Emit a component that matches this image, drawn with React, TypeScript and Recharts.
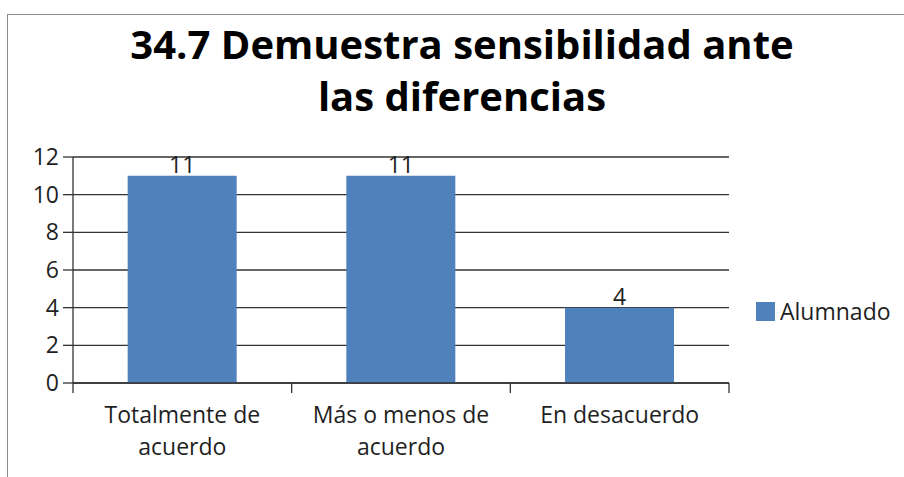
// Bar chart: "34.7 Demuestra sensibilidad ante las diferencias" — one series
// (Alumnado) over three agreement categories, Excel-2007 styling.
import { Bar, BarChart, CartesianGrid, LabelList, XAxis, YAxis } from "recharts";

const TITLE_LINES = ["34.7 Demuestra sensibilidad ante", "las diferencias"];
const CATEGORIES = ["Totalmente de acuerdo", "Más o menos de acuerdo", "En desacuerdo"];
const CATEGORY_LINES = [["Totalmente de", "acuerdo"], ["Más o menos de", "acuerdo"], ["En desacuerdo"]];
const ALUMNADO = [11, 11, 4];
const Y_TICKS = [0, 2, 4, 6, 8, 10, 12];
const SERIES_NAME = "Alumnado";

const BAR_COLOR = "#4F81BD";
const INK = "#1f1f1f";
const GRID = "#333333";
const FONT = "'Open Sans', sans-serif";
const LABEL_SIZE = 23;

const rows = CATEGORIES.map((c, i) => ({ name: c, value: ALUMNADO[i] }));

// category label under each band, with tick marks on the band edges
function CategoryTick(props: any) {
  const { x, y, payload, index, visibleTicksCount, width } = props;
  const half = payload?.offset ?? width / visibleTicksCount / 2;
  const lines = CATEGORY_LINES[index] ?? [String(payload.value)];
  const isLast = index === visibleTicksCount - 1;
  return (
    <g>
      <line x1={x - half} x2={x - half} y1={y} y2={y + 10} stroke={GRID} strokeWidth={1.3} />
      {isLast && <line x1={x + half} x2={x + half} y1={y} y2={y + 10} stroke={GRID} strokeWidth={1.3} />}
      {lines.map((l: string, i: number) => (
        <text key={i} x={x} y={y + 40 + i * 32} textAnchor="middle" fontSize={LABEL_SIZE} fill={INK} fontFamily={FONT}>
          {l}
        </text>
      ))}
    </g>
  );
}

export default function App() {
  return (
    <div style={{ position: "absolute", left: 0, top: 0, width: 904, height: 477, background: "#fff", overflow: "hidden", fontFamily: FONT }}>
      {/* chart frame, cropped on the right and bottom */}
      <div style={{ position: "absolute", left: 7, top: 14, width: 910, height: 480, borderLeft: "1.5px solid #8c8c8c", borderTop: "1.5px solid #8c8c8c" }} />
      <div
        style={{
          position: "absolute",
          left: 0,
          top: 18,
          width: 924,
          textAlign: "center",
          fontWeight: 700,
          fontSize: 40,
          lineHeight: "52px",
          color: "#000",
        }}
      >
        {TITLE_LINES.map((t) => (
          <div key={t}>{t}</div>
        ))}
      </div>
      <BarChart
        width={904}
        height={477}
        data={rows}
        margin={{ top: 157, right: 175, bottom: 14, left: 13 }}
        barCategoryGap="25%"
        style={{ position: "absolute", left: 0, top: 0, fontFamily: FONT }}
      >
        <CartesianGrid horizontal vertical={false} stroke={GRID} strokeWidth={1.3} />
        <XAxis
          dataKey="name"
          interval={0}
          height={80}
          tickSize={0}
          tickMargin={0}
          tickLine={false}
          axisLine={{ stroke: GRID, strokeWidth: 1.3 }}
          tick={<CategoryTick />}
        />
        <YAxis
          domain={[0, 12]}
          ticks={Y_TICKS}
          width={60}
          tickSize={10}
          tickMargin={4}
          tickLine={{ stroke: GRID, strokeWidth: 1.3 }}
          axisLine={{ stroke: GRID, strokeWidth: 1.3 }}
          tick={{ fontSize: LABEL_SIZE, fill: INK }}
        />
        <YAxis yAxisId="edge" orientation="right" domain={[0, 12]} width={0} tick={false} tickLine={false} axisLine={{ stroke: "#c4c4c4" }} />
        <Bar dataKey="value" name={SERIES_NAME} fill={BAR_COLOR} isAnimationActive={false}>
          <LabelList dataKey="value" position="top" offset={3} fontSize={LABEL_SIZE} fill={INK} />
        </Bar>
      </BarChart>
      {/* legend */}
      <div style={{ position: "absolute", left: 756, top: 295, display: "flex", alignItems: "center", fontSize: LABEL_SIZE, color: INK }}>
        <span style={{ display: "inline-block", width: 19, height: 19, background: BAR_COLOR, marginRight: 5 }} />
        <span>{SERIES_NAME}</span>
      </div>
    </div>
  );
}
